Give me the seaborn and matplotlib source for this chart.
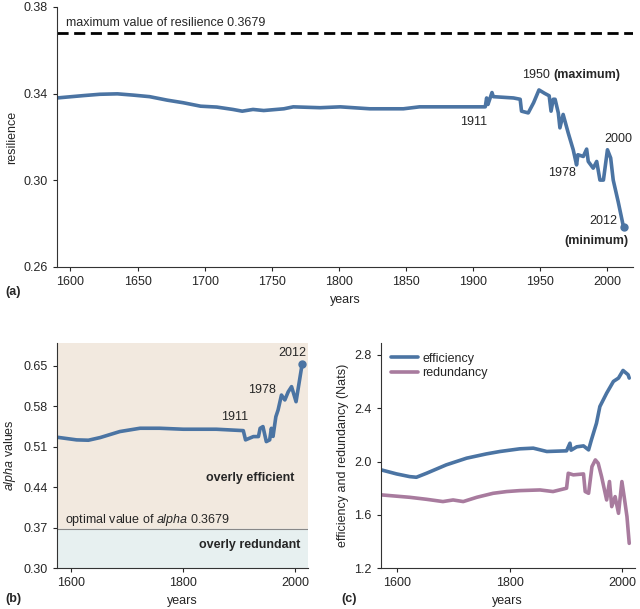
import matplotlib
matplotlib.use("Agg")
import matplotlib.pyplot as plt
import numpy as np
import pandas as pd
import seaborn as sns

# resilience (panel a)
res_years = [1575, 1590, 1610, 1622, 1635, 1647, 1659, 1672, 1684, 1697, 1709, 1721, 1728,
             1736, 1744, 1759, 1766, 1786, 1801, 1823, 1848, 1860, 1885, 1909, 1910, 1911,
             1914, 1915, 1930, 1935, 1936, 1941, 1945, 1949, 1953, 1956.6, 1958, 1959.6,
             1961, 1963.4, 1964.6, 1967, 1970.8, 1974.5, 1977, 1978, 1982, 1984.5, 1985.7,
             1989.4, 1992, 1994.4, 1997, 2000, 2002.4, 2004.3, 2008, 2012]
res_vals = [0.3378, 0.3380, 0.3391, 0.3397, 0.3399, 0.3393, 0.3386, 0.3370, 0.3358, 0.3342,
            0.3338, 0.3327, 0.3319, 0.3327, 0.3322, 0.3330, 0.3339, 0.3335, 0.3339, 0.3330,
            0.3330, 0.3339, 0.3339, 0.3339, 0.3380, 0.3350, 0.3405, 0.3386, 0.3380, 0.3374,
            0.3319, 0.3311, 0.3358, 0.3417, 0.3402, 0.3390, 0.3319, 0.3374, 0.3374, 0.3311,
            0.3242, 0.3304, 0.3218, 0.3141, 0.3071, 0.3118, 0.3110, 0.3144, 0.3087, 0.3056,
            0.3087, 0.3001, 0.3001, 0.3141, 0.3103, 0.3001, 0.2901, 0.2783]

# alpha values (panel b)
alpha_years = [1575, 1610, 1631, 1652, 1687, 1723, 1758, 1800, 1859, 1907, 1911, 1925, 1934,
               1937, 1942, 1948, 1954, 1957, 1960, 1965, 1969, 1975, 1981, 1987, 1993, 2001,
               2012]
alpha_vals = [0.5266, 0.5220, 0.5214, 0.5260, 0.5364, 0.5421, 0.5421, 0.5404, 0.5404, 0.5380,
              0.5220, 0.5277, 0.5277, 0.5420, 0.5450, 0.5190, 0.5220, 0.5420, 0.5280, 0.5620,
              0.5737, 0.5995, 0.5910, 0.6050, 0.6140, 0.5880, 0.6540]

# efficiency and redundancy (panel c)
eff_years = [1573, 1600, 1623, 1635, 1653, 1688, 1724, 1759, 1783, 1818, 1842, 1866, 1901,
             1907, 1909, 1919, 1931, 1940, 1945, 1954, 1960, 1972, 1984, 1993, 2001, 2010, 2012]
eff_vals = [1.937, 1.907, 1.887, 1.882, 1.912, 1.975, 2.025, 2.057, 2.075, 2.095, 2.100,
            2.075, 2.080, 2.137, 2.085, 2.110, 2.117, 2.087, 2.162, 2.287, 2.412, 2.512,
            2.600, 2.625, 2.682, 2.650, 2.625]
red_years = [1573, 1623, 1653, 1682, 1700, 1718, 1742, 1771, 1795, 1818, 1854, 1877, 1901,
             1904, 1913, 1931, 1934, 1940, 1946, 1952, 1957, 1963, 1972, 1977, 1981, 1987,
             1993, 1999, 2003, 2008, 2012]
red_vals = [1.750, 1.732, 1.717, 1.700, 1.712, 1.700, 1.732, 1.762, 1.775, 1.782, 1.787,
            1.775, 1.800, 1.912, 1.900, 1.907, 1.775, 1.762, 1.962, 2.012, 1.987, 1.887,
            1.712, 1.850, 1.662, 1.737, 1.612, 1.850, 1.737, 1.587, 1.387]

blue = "#4b74a3"
pink = "#a87b9e"

sns.set_style("ticks")
plt.rcParams["font.family"] = ["Liberation Sans", "DejaVu Sans"]
plt.rcParams["mathtext.fontset"] = "custom"
plt.rcParams["mathtext.it"] = "Liberation Sans:italic"
plt.rcParams["mathtext.rm"] = "Liberation Sans"
plt.rcParams["font.size"] = 9
plt.rcParams["axes.edgecolor"] = "#333333"
plt.rcParams["xtick.major.size"] = 3
plt.rcParams["ytick.major.size"] = 3

fig = plt.figure(figsize=(6.4, 6.09), dpi=100)

# ---- panel (a)
ax1 = fig.add_axes([0.089, 0.5616, 0.900, 0.427])
sns.lineplot(x=res_years, y=res_vals, ax=ax1, color=blue, lw=2.6)
ax1.plot(res_years[-1], res_vals[-1], "o", color=blue, ms=5)
ax1.axhline(0.3679, color="black", lw=2, ls=(0, (4, 2)))
ax1.set_xlim(1590, 2019)
ax1.set_ylim(0.26, 0.38)
ax1.set_yticks([0.26, 0.30, 0.34, 0.38])
ax1.set_yticklabels(["0.26", "0.30", "0.34", "0.38"])
ax1.set_xticks(range(1600, 2001, 50))
ax1.set_xlabel("years", fontsize=9)
ax1.set_ylabel("resilience", fontsize=9)
ax1.text(1597, 0.3726, "maximum value of resilience 0.3679", fontsize=9, va="center")
ax1.text(1900, 0.327, "1911", ha="center", va="center")
ax1.text(1957, 0.3484, "1950", ha="right", va="center")
ax1.text(1960, 0.3484, "(maximum)", ha="left", va="center", fontweight="bold")
ax1.text(2008, 0.3191, "2000", ha="center", va="center")
ax1.text(1966, 0.3033, "1978", ha="center", va="center")
ax1.text(1996.6, 0.281, "2012", ha="center", va="center")
ax1.text(1992, 0.2721, "(minimum)", ha="center", va="center", fontweight="bold")
sns.despine(ax=ax1)
fig.text(0.008, 0.515, "(a)", fontweight="bold", fontsize=9)

# ---- panel (b)
ax2 = fig.add_axes([0.089, 0.0668, 0.392, 0.3705])
ax2.axhspan(0.3679, 0.69, color="#f2e9df", zorder=0)
ax2.axhspan(0.30, 0.3679, color="#e7f0f0", zorder=0)
ax2.axhline(0.3679, color="#888888", lw=0.8)
sns.lineplot(x=alpha_years, y=alpha_vals, ax=ax2, color=blue, lw=2.6)
ax2.plot(alpha_years[-1], alpha_vals[-1], "o", color=blue, ms=5)
ax2.set_xlim(1575, 2022)
ax2.set_ylim(0.30, 0.69)
ax2.set_yticks([0.30, 0.37, 0.44, 0.51, 0.58, 0.65])
ax2.set_yticklabels(["0.30", "0.37", "0.44", "0.51", "0.58", "0.65"])
ax2.set_xticks([1600, 1800, 2000])
ax2.set_xlabel("years", fontsize=9)
ax2.set_ylabel("$\\it{alpha}$ values", fontsize=9)
ax2.text(1892, 0.561, "1911", ha="center", va="center")
ax2.text(1940, 0.608, "1978", ha="center", va="center")
ax2.text(1995, 0.672, "2012", ha="center", va="center")
ax2.text(1920, 0.456, "overly efficient", ha="center", va="center", fontweight="bold")
ax2.text(1919, 0.3395, "overly redundant", ha="center", va="center", fontweight="bold")
ax2.text(1589, 0.383, "optimal value of $\\it{alpha}$ 0.3679", va="center")
sns.despine(ax=ax2)
fig.text(0.008, 0.012, "(b)", fontweight="bold", fontsize=9)

# ---- panel (c)
ax3 = fig.add_axes([0.595, 0.0668, 0.397, 0.3705])
sns.lineplot(x=eff_years, y=eff_vals, ax=ax3, color=blue, lw=2.6, label="efficiency")
sns.lineplot(x=red_years, y=red_vals, ax=ax3, color=pink, lw=2.6, label="redundancy")
ax3.set_xlim(1572, 2022)
ax3.set_ylim(1.2, 2.89)
ax3.set_yticks([1.2, 1.6, 2.0, 2.4, 2.8])
ax3.set_xticks([1600, 1800, 2000])
ax3.set_xlabel("years", fontsize=9)
ax3.set_ylabel("efficiency and redundancy (Nats)", fontsize=9)
ax3.legend(loc="upper left", frameon=False, handlelength=2.2, handletextpad=0.3,
           labelspacing=0.2, borderaxespad=0.4, fontsize=9)
sns.despine(ax=ax3)
fig.text(0.534, 0.012, "(c)", fontweight="bold", fontsize=9)

fig.savefig("out.png", dpi=100)
